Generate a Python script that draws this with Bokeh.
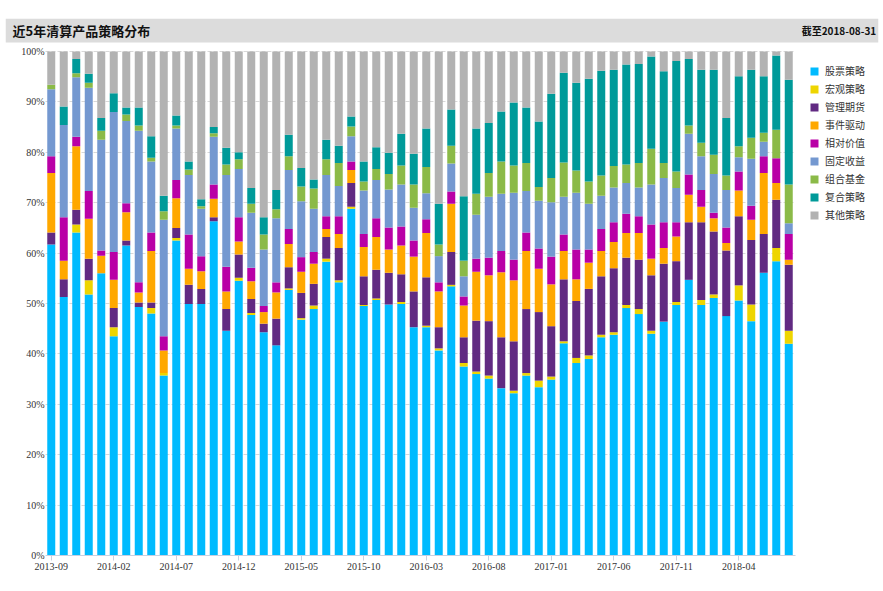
from bokeh.plotting import figure
from bokeh.models import (ColumnDataSource, FixedTicker, Legend, LegendItem,
                          Label, Range1d, BoxAnnotation)
from bokeh.embed import file_html
from bokeh.resources import INLINE
import pandas as pd

months = [str(m) for m in pd.period_range("2013-09", "2018-08", freq="M")]
tick_labels = ["2013-09", "2014-02", "2014-07", "2014-12", "2015-05", "2015-10",
               "2016-03", "2016-08", "2017-01", "2017-06", "2017-11", "2018-04"]
y_ticks = [0, 10, 20, 30, 40, 50, 60, 70, 80, 90, 100]

series = ["股票策略", "宏观策略", "管理期货", "事件驱动", "相对价值",
          "固定收益", "组合基金", "复合策略", "其他策略"]
colors = ["#00BBFF", "#EED500", "#612A82", "#FFA800", "#B900A6",
          "#7498D0", "#8BBA48", "#009A99", "#B2B2B2"]

stock = [61.7, 51.3, 64.1, 51.8, 56.0, 43.5, 61.5, 49.3, 48.0, 35.7,
         62.5, 49.9, 49.9, 66.3, 44.6, 54.5, 47.7, 44.3, 41.7, 52.7,
         46.8, 48.9, 58.3, 54.2, 68.8, 49.5, 50.7, 49.8, 49.9, 45.3,
         45.3, 40.7, 53.4, 37.5, 36.0, 35.1, 33.2, 32.2, 35.7, 33.4,
         34.9, 42.1, 38.2, 39.0, 43.3, 43.8, 49.1, 47.9, 44.0, 46.4,
         49.7, 54.7, 49.7, 51.1, 47.5, 50.6, 46.5, 56.1, 58.4, 42.0]
macro = [0, 0, 1.6, 2.8, 0, 1.8, 0, 0, 1.1, 0.5,
         0.5, 0, 0, 0, 0, 0.6, 0.4, 0, 0, 0.3,
         0.3, 0.7, 0.6, 0.4, 0.4, 0.2, 0.3, 0, 0.4, 0,
         0.3, 0.4, 0.3, 0.7, 0.5, 0.6, 0, 0.5, 0.5, 1.3,
         0.6, 0.4, 1.0, 0.7, 0.5, 0.5, 0.6, 1.0, 0.6, 0,
         0.6, 0, 1.0, 0.7, 0, 3.0, 3.3, 0, 2.6, 2.6]
futures = [2.4, 3.5, 2.9, 4.3, 0, 3.8, 1.0, 0.9, 1.1, 0,
           2.0, 3.8, 3.0, 0.8, 4.3, 4.6, 2.8, 1.7, 5.3, 4.2,
           5.0, 4.3, 4.3, 6.4, 4.7, 5.7, 5.7, 6.3, 5.5, 7.1,
           9.6, 4.2, 6.5, 5.1, 10.1, 10.8, 10.1, 9.8, 12.7, 13.6,
           10.0, 12.3, 11.3, 13.2, 11.6, 12.7, 9.4, 9.8, 11.0, 11.5,
           8.1, 11.4, 15.4, 12.5, 13.0, 13.7, 12.8, 7.7, 9.6, 13.1]
event = [11.8, 3.7, 12.6, 7.9, 3.5, 5.6, 5.6, 2.0, 10.2, 4.5,
         5.9, 3.2, 3.5, 3.7, 3.5, 2.6, 3.5, 2.3, 5.2, 4.6,
         4.2, 4.0, 1.6, 2.8, 2.6, 5.8, 6.5, 4.6, 5.7, 6.9,
         8.8, 7.1, 9.6, 6.3, 9.7, 9.1, 12.9, 12.1, 11.5, 8.6,
         8.3, 5.6, 4.3, 5.2, 5.0, 5.2, 4.9, 5.3, 3.3, 3.1,
         4.9, 5.5, 3.1, 2.6, 1.5, 5.1, 4.0, 12.1, 3.3, 1.0]
relative = [3.3, 8.6, 1.9, 5.5, 1.0, 5.5, 1.8, 2.0, 3.7, 2.8,
            3.6, 6.8, 3.0, 2.8, 4.9, 4.8, 2.7, 1.2, 2.0, 3.0,
            2.9, 2.3, 2.5, 3.5, 1.7, 2.6, 3.7, 4.4, 3.8, 3.2,
            2.7, 1.8, 2.4, 1.8, 2.6, 3.5, 4.2, 4.1, 3.7, 4.0,
            5.5, 3.3, 5.9, 2.6, 4.4, 3.9, 3.8, 3.3, 6.8, 5.1,
            2.8, 4.0, 3.3, 1.1, 3.1, 3.8, 2.8, 3.3, 4.9, 5.1]
fixed = [13.3, 18.3, 11.8, 20.5, 22.0, 27.8, 16.3, 30.1, 14.1, 23.1,
         10.2, 11.8, 9.4, 9.5, 18.2, 9.6, 10.9, 11.2, 12.7, 11.7,
         11.1, 8.6, 8.2, 6.0, 5.0, 8.6, 7.6, 7.5, 8.3, 6.5,
         5.2, 5.2, 5.6, 4.0, 8.7, 12.1, 11.4, 13.3, 8.2, 9.5,
         10.8, 7.5, 11.3, 9.1, 6.6, 6.9, 6.1, 5.7, 7.9, 8.8,
         6.8, 8.1, 6.7, 7.7, 7.4, 2.8, 9.3, 2.9, 0, 2.1]
fof = [0.9, 0, 0.8, 1.0, 1.8, 0, 1.3, 1.0, 0.7, 1.7,
       0.6, 1.1, 0.5, 0.7, 2.1, 1.9, 1.8, 3.0, 1.8, 2.7,
       2.9, 4.0, 3.1, 4.6, 1.9, 1.8, 2.2, 3.1, 3.8, 4.6,
       5.2, 2.3, 3.5, 3.1, 4.2, 4.7, 6.4, 5.4, 5.6, 2.7,
       4.8, 6.8, 4.4, 4.4, 4.0, 4.3, 3.7, 4.9, 7.1, 3.0,
       3.3, 1.6, 2.7, 3.8, 2.9, 2.2, 4.2, 1.8, 5.7, 7.7]
multi = [0, 3.7, 2.8, 1.8, 2.5, 3.7, 1.4, 3.6, 4.3, 3.1,
         2.0, 1.6, 1.4, 1.2, 3.3, 1.4, 3.1, 3.4, 3.8, 4.3,
         3.7, 1.8, 3.9, 3.4, 2.0, 4.0, 4.3, 4.2, 6.3, 6.1,
         7.6, 8.1, 7.2, 12.8, 12.9, 9.9, 9.9, 12.5, 11.0, 13.0,
         16.7, 17.8, 17.4, 20.4, 20.8, 19.1, 19.8, 19.6, 18.3, 18.2,
         21.9, 13.2, 14.5, 16.9, 11.4, 13.9, 13.5, 11.2, 14.7, 20.8]
other = [6.6, 10.9, 1.5, 4.4, 13.2, 8.3, 11.1, 11.1, 16.8, 28.6,
         12.7, 21.8, 29.3, 15.0, 19.1, 20.0, 27.1, 32.9, 27.5, 16.5,
         23.1, 25.4, 17.5, 18.7, 12.9, 21.8, 19.0, 20.1, 16.3, 20.3,
         15.3, 30.2, 11.5, 28.7, 15.3, 14.2, 11.9, 10.1, 11.1, 13.9,
         8.4, 4.2, 6.2, 5.4, 3.8, 3.6, 2.6, 2.5, 1.0, 3.9,
         1.9, 1.5, 3.6, 3.6, 13.2, 4.9, 3.6, 4.9, 0.8, 5.6]

title_text = "近5年清算产品策略分布"
date_text = "截至2018-08-31"

src = ColumnDataSource(dict(
    x=list(range(len(months))), month=months,
    **dict(zip(series, [stock, macro, futures, event, relative,
                        fixed, fof, multi, other]))))

X0, X1 = -0.46, 59.54          # extent of the bar area
p = figure(frame_width=873, frame_height=537, output_backend="svg",
           toolbar_location=None,
           x_range=Range1d(-3.66, 66.18), y_range=Range1d(0, 106.55),
           min_border_left=5, min_border_right=5, min_border_top=18,
           min_border_bottom=36)
p.outline_line_color = None
p.background_fill_color = "white"
p.border_fill_color = "white"

# header band + texts
p.add_layout(BoxAnnotation(bottom=101.79, fill_color="#DCDCDC", fill_alpha=1,
                           line_color=None, level="underlay"))
p.add_layout(Label(x=-3.1, y=104.17, text=title_text, text_font="Noto Sans CJK SC",
                   text_font_size="13px", text_font_style="bold",
                   text_color="#111111", text_baseline="middle"))
p.add_layout(Label(x=66.0, y=104.17, text=date_text, text_font="Noto Sans CJK SC",
                   text_font_size="10px", text_font_style="bold",
                   text_color="#111111", text_baseline="middle",
                   text_align="right"))

rs = p.vbar_stack(series, x="x", width=0.64, color=colors, line_color=None,
                  source=src)

legend = Legend(items=[LegendItem(label=s, renderers=[r]) for s, r in zip(series, rs)],
                location=(804, 333), orientation="vertical",
                glyph_width=10, glyph_height=10, label_height=10,
                spacing=3, padding=5, margin=0, label_standoff=6,
                label_text_font="Noto Sans CJK SC", label_text_font_size="10px",
                label_text_color="#333333", border_line_color=None,
                background_fill_alpha=0)
p.add_layout(legend)

p.xaxis.bounds = (X0, X1)
p.xaxis.ticker = FixedTicker(ticks=[months.index(t) for t in tick_labels])
p.xaxis.major_label_overrides = {months.index(t): t for t in tick_labels}
p.xaxis.axis_line_color = "#C8D0E0"
p.xaxis.major_tick_line_color = "#C8D0E0"
p.xaxis.major_tick_out = 5
p.xaxis.major_tick_in = 0
p.xaxis.minor_tick_line_color = None
p.xaxis.major_label_standoff = 2
p.xaxis.major_label_text_font = "Liberation Serif"
p.xaxis.major_label_text_font_size = "10px"
p.xaxis.major_label_text_color = "#333333"

p.yaxis.bounds = (0, 100)
p.yaxis.ticker = FixedTicker(ticks=y_ticks)
p.yaxis.major_label_overrides = {t: f"{t}%" for t in y_ticks}
p.yaxis.axis_line_color = None
p.yaxis.major_tick_line_color = None
p.yaxis.minor_tick_line_color = None
p.yaxis.major_tick_out = 0
p.yaxis.major_label_standoff = -39
p.yaxis.major_label_text_font = "Liberation Serif"
p.yaxis.major_label_text_font_size = "10px"
p.yaxis.major_label_text_color = "#333333"

p.xgrid.grid_line_color = None
p.ygrid.bounds = (0, 100)
p.ygrid.cross_bounds = (X0, X1)
p.ygrid.grid_line_color = "#D8D8D8"
p.ygrid.grid_line_dash = "4 2"

open("out.html", "w").write(file_html(p, INLINE))
